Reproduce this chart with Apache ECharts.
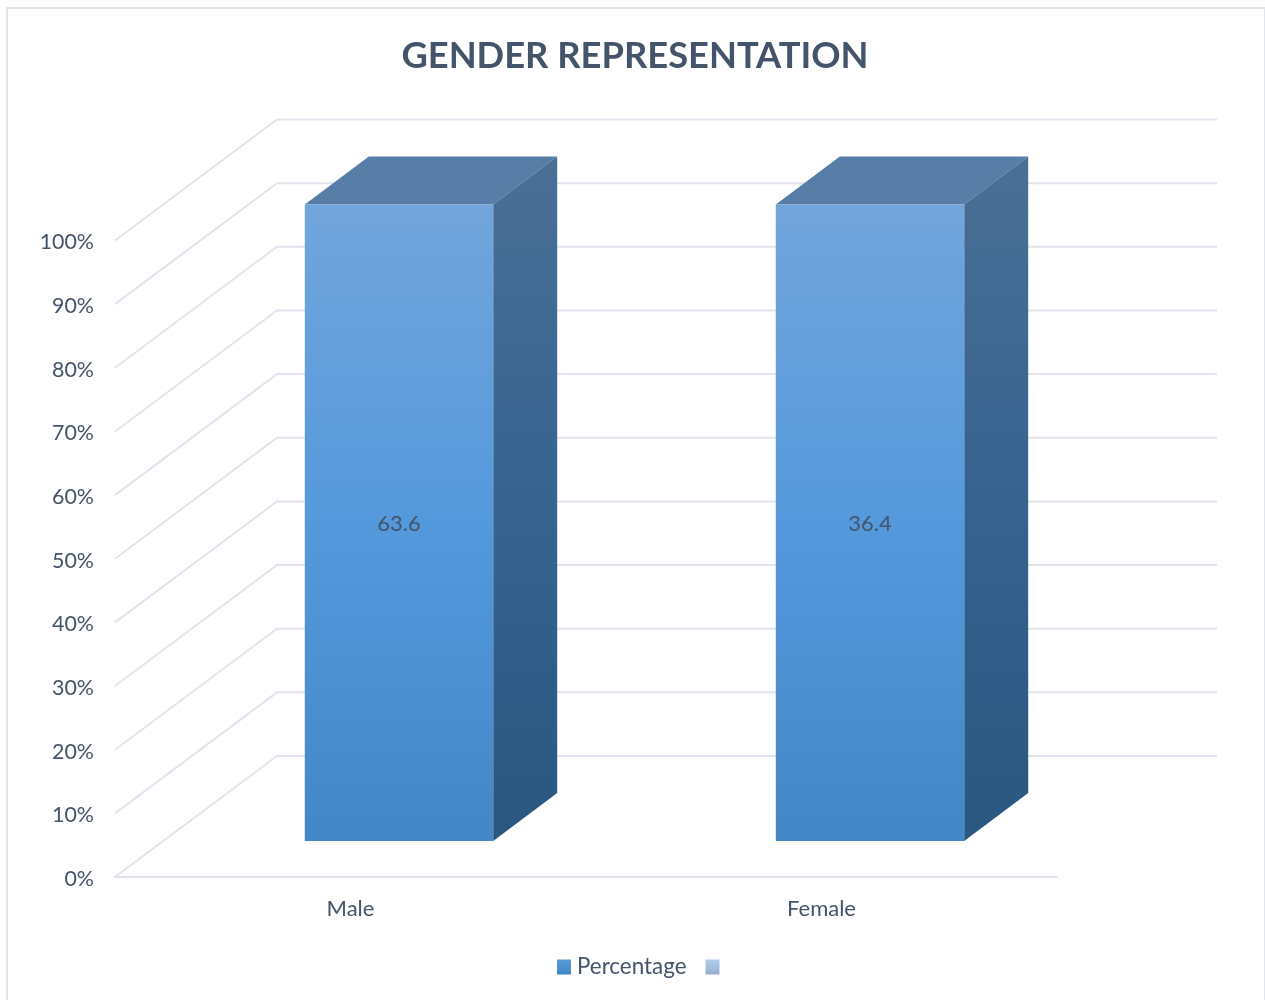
<!DOCTYPE html>
<html>
<head>
<meta charset="utf-8">
<title>Gender representation</title>
<script src="https://cdn.jsdelivr.net/npm/echarts@6/dist/echarts.min.js"></script>
<style>
    html, body { margin: 0; padding: 0; background: #fff; overflow: hidden; }
    #frame { position: absolute; left: 6px; top: 7px; width: 1256px; height: 993px; border: 2px solid #e2e6ea; border-bottom: none; }
    #chart { position: absolute; left: 0; top: 0; width: 1265px; height: 1000px; }
</style>
</head>
<body>
<div id="frame"></div>
<div id="chart"></div>
<script>
    var categories = ['Male', 'Female'];
    var percentage = [63.6, 36.4];
    var blankSeries = [null, null];   // second legend entry has no values in the source chart
    var yTicks = [0, 10, 20, 30, 40, 50, 60, 70, 80, 90, 100];

    var textColor = '#44546a';
    var gridColor = '#e1e4ec';
    var fontName = 'Lato, "Open Sans", sans-serif';

    function vGrad(top, mid, bottom) {
        return new echarts.graphic.LinearGradient(0, 0, 0, 1, [
            { offset: 0, color: top },
            { offset: 0.5, color: mid },
            { offset: 1, color: bottom }
        ]);
    }

    // the 3d look: floor depth and where the bar sits inside that depth
    var wallDx = 162, wallDy = -121, wallRight = 1217;
    var barDx = 48.5, barDy = -36;
    var depthDx = 64, depthDy = -48;

    function renderWall(params, api) {
        var sys = params.coordSys;
        var y = api.coord([0, api.value(1)])[1];
        var x0 = sys.x;
        var lineStyle = { stroke: gridColor, lineWidth: 2, fill: null };
        return {
            type: 'polyline',
            silent: true,
            shape: { points: [[x0, y], [x0 + wallDx, y + wallDy], [wallRight, y + wallDy]] },
            style: lineStyle
        };
    }

    function renderBar(params, api) {
        var top = api.coord([api.value(0), api.value(1)]);
        var base = api.coord([api.value(0), 0]);
        var w = api.size([1, 0])[0] * 0.4;
        var l = top[0] + barDx - w / 2, r = l + w;
        var t = top[1] + barDy, b = base[1] + barDy;
        return {
            type: 'group',
            children: [
                {
                    type: 'polygon',
                    shape: { points: [[l, t], [l + depthDx, t + depthDy], [r + depthDx, t + depthDy], [r, t]] },
                    style: { fill: '#587da6' }
                },
                {
                    type: 'polygon',
                    shape: { points: [[r, t], [r + depthDx, t + depthDy], [r + depthDx, b + depthDy], [r, b]] },
                    style: { fill: vGrad('#4a6f95', '#366390', '#29577f') }
                },
                {
                    type: 'rect',
                    shape: { x: l, y: t, width: w, height: b - t },
                    style: { fill: vGrad('#72a5dc', '#5499dc', '#4387c8') }
                },
                {
                    type: 'text',
                    style: {
                        x: (l + r) / 2,
                        y: (t + b) / 2 + 1.5,
                        text: String(api.value(2)),
                        fill: textColor,
                        font: '22px ' + fontName,
                        align: 'center',
                        verticalAlign: 'middle'
                    }
                }
            ]
        };
    }

    // 100% stacked: every category fills the axis, the label keeps the real figure
    var barData = percentage.map(function (v, i) {
        return [i, v / (v + (blankSeries[i] || 0)) * 100, v];
    });

    var chart = echarts.init(document.getElementById('chart'), null, { renderer: 'canvas' });
    chart.setOption({
        animation: false,
        backgroundColor: 'transparent',
        textStyle: { fontFamily: fontName },
        title: {
            text: 'GENDER REPRESENTATION',
            left: 630,
            top: 33,
            textAlign: 'center',
            textStyle: { color: textColor, fontSize: 36.3, fontWeight: 'bold', fontFamily: fontName }
        },
        legend: {
            left: 552,
            top: 951,
            icon: 'rect',
            itemWidth: 14,
            itemHeight: 15,
            itemGap: 19,
            selectedMode: false,
            textStyle: { color: textColor, fontSize: 22.4, fontFamily: fontName, padding: [0, 0, 0, 1] },
            data: [
                { name: 'Percentage', itemStyle: { color: vGrad('#5b9bd5', '#4d91d0', '#3f85c6') } },
                { name: ' ', itemStyle: { color: vGrad('#b5cdec', '#a5bdde', '#94add0') } }
            ]
        },
        grid: { left: 115, right: 208, top: 240.5, bottom: 123 },
        xAxis: {
            type: 'category',
            data: categories,
            axisLine: { lineStyle: { color: gridColor, width: 2 } },
            axisTick: { show: false },
            axisLabel: { color: textColor, fontSize: 22, margin: 21, fontFamily: fontName }
        },
        yAxis: {
            type: 'value',
            min: 0,
            max: 100,
            interval: 10,
            splitLine: { show: false },
            axisLine: { show: false },
            axisTick: { show: false },
            axisLabel: {
                margin: 21,
                formatter: '{tick|{value}%}',
                rich: {
                    tick: {
                        color: textColor,
                        fontSize: 21.4,
                        fontFamily: fontName,
                        padding: [4, 0, 0, 0]
                    }
                }
            }
        },
        series: [
            {
                name: 'wall',
                type: 'custom',
                renderItem: renderWall,
                silent: true,
                z: 1,
                clip: false,
                encode: { x: 0, y: 1 },
                data: yTicks.map(function (t) { return [0, t]; })
            },
            {
                name: 'Percentage',
                type: 'custom',
                renderItem: renderBar,
                z: 2,
                clip: false,
                encode: { x: 0, y: 1 },
                data: barData
            },
            {
                name: ' ',
                type: 'custom',
                renderItem: function () { return null; },
                data: blankSeries.map(function (v, i) { return [i, v]; })
            }
        ]
    });
</script>
</body>
</html>
